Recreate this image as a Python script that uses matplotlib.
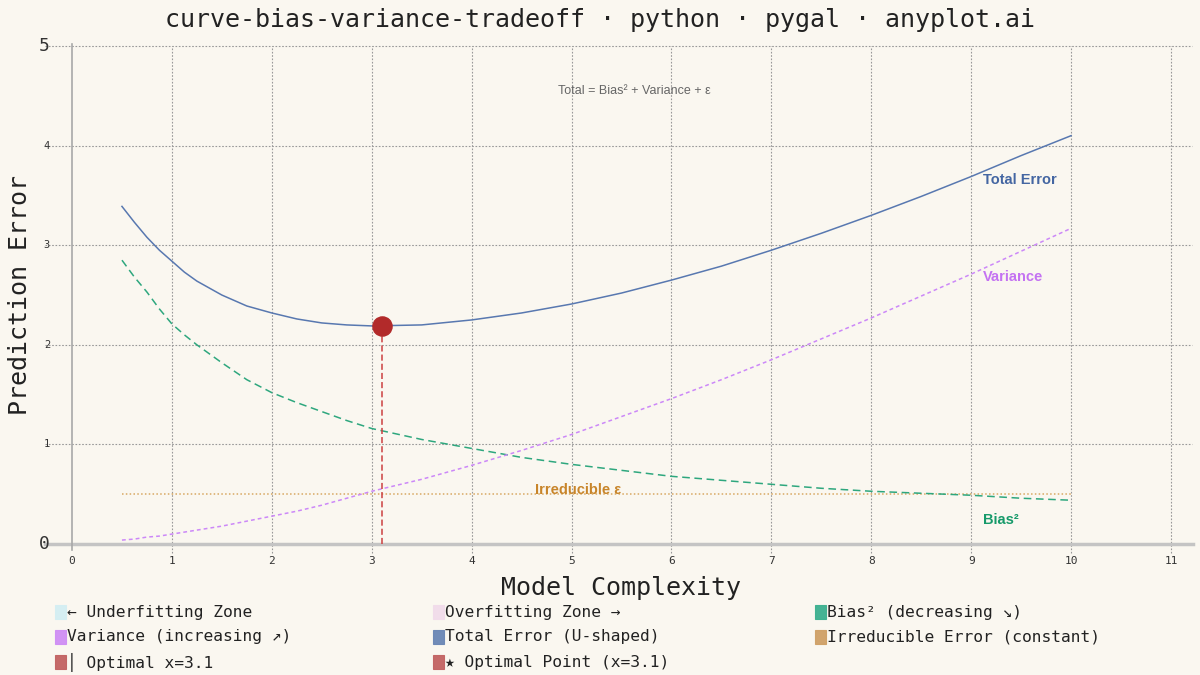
import numpy as np
import matplotlib
matplotlib.use("Agg")
import matplotlib.pyplot as plt
from matplotlib.patches import Rectangle

# ============================================
# Data
# ============================================
complexity = [0.5, 0.625, 0.75, 0.875, 1, 1.125, 1.25, 1.5, 1.75, 2, 2.25, 2.5, 2.75, 3,
              3.5, 4, 4.5, 5, 5.5, 6, 6.5, 7, 7.5, 8, 8.5, 9, 9.5, 10]
bias_sq = [2.85, 2.68, 2.53, 2.36, 2.21, 2.10, 2.00, 1.82, 1.65, 1.52, 1.42, 1.33, 1.24, 1.16,
           1.05, 0.96, 0.87, 0.80, 0.74, 0.68, 0.64, 0.60, 0.56, 0.53, 0.51, 0.49, 0.46, 0.44]
variance = [0.04, 0.05, 0.07, 0.08, 0.10, 0.12, 0.14, 0.18, 0.23, 0.28, 0.33, 0.39, 0.46, 0.53,
            0.65, 0.79, 0.94, 1.10, 1.28, 1.46, 1.65, 1.85, 2.06, 2.27, 2.49, 2.71, 2.94, 3.17]
total_error = [3.39, 3.23, 3.08, 2.95, 2.84, 2.73, 2.64, 2.50, 2.39, 2.32, 2.26, 2.22, 2.20, 2.19,
               2.20, 2.25, 2.32, 2.41, 2.52, 2.65, 2.79, 2.95, 3.12, 3.30, 3.49, 3.69, 3.90, 4.10]
irreducible = 0.5
optimal_x = 3.1
optimal_y = 2.19

x_ticks = list(range(0, 12))
y_ticks = [0, 1, 2, 3, 4, 5]

legend_items = [
    ("← Underfitting Zone", "#d3eef3"),
    ("Overfitting Zone →", "#f1dcea"),
    ("Bias² (decreasing ↘)", "#3bb08f"),
    ("Variance (increasing ↗)", "#cf8ef5"),
    ("Total Error (U-shaped)", "#6a86b5"),
    ("Irreducible Error (constant)", "#cfa066"),
    ("│ Optimal x=3.1", "#c26262"),
    ("★ Optimal Point (x=3.1)", "#c26262"),
]

# ============================================
# Figure setup
# ============================================
bg = "#faf7f0"
mono = ["DejaVu Sans Mono", "DejaVu Sans"]
sans = ["Liberation Sans", "DejaVu Sans"]

fig = plt.figure(figsize=(12, 6.75), dpi=100, facecolor=bg)
ax = fig.add_axes([0.06, 0.194, 0.9333, 0.7378], facecolor=bg)
ax.set_xlim(0, 11.21)
ax.set_ylim(0, 5)
for s in ax.spines.values():
    s.set_visible(False)
ax.set_xticks([])
ax.set_yticks([])

# grid (extends a little past the data area, like the original)
for yv in y_ticks[1:]:
    ax.plot([-0.27, 11.21], [yv, yv], ls=(0, (1.5, 1.5)), color="#999999",
            lw=0.8, clip_on=False, zorder=1)
for xv in x_ticks[1:]:
    ax.plot([xv, xv], [-0.09, 5], ls=(0, (1.5, 1.5)), color="#999999",
            lw=0.8, clip_on=False, zorder=1)
ax.plot([-0.27, 11.22], [0, 0], color="#c4c4c4", lw=2.5, clip_on=False, zorder=1)
ax.plot([0, 0], [-0.06, 5.02], color="#a8a8a8", lw=1.2, clip_on=False, zorder=2)

# tick labels
for yv in y_ticks:
    big = yv in (0, 5)
    ax.text(-0.22, yv, str(yv), ha="right", va="center", family=mono,
            fontsize=13 if big else 7.5, color="#333333")
for xv in x_ticks:
    ax.text(xv, -0.17, str(xv), ha="center", va="center", family=mono,
            fontsize=8, color="#333333")

# ============================================
# Curves
# ============================================
ax.plot(complexity, total_error, color="#5878b0", lw=1.1, zorder=4)
ax.plot(complexity, bias_sq, color="#2ea77e", lw=1.1, ls=(0, (5, 3)), zorder=4)
ax.plot(complexity, variance, color="#cc88f8", lw=1.1, ls=(0, (2.5, 2)), zorder=4)
ax.plot([complexity[0], complexity[-1]], [irreducible, irreducible],
        color="#d8a862", lw=1.1, ls=(0, (1, 1.5)), zorder=3)

# optimal point
ax.plot([optimal_x, optimal_x], [0, optimal_y], color="#cc4040", lw=1.1,
        ls=(0, (4, 2)), zorder=5)
ax.scatter([optimal_x], [optimal_y], s=190, color="#b22a2a", zorder=6,
           edgecolors="#b22a2a")

# labels on the chart
ax.text(9.12, 3.65, "Total Error", color="#4466a2", fontsize=10.5,
        fontweight="bold", family=sans, va="center")
ax.text(9.12, 2.68, "Variance", color="#c472f2", fontsize=10.5,
        fontweight="bold", family=sans, va="center")
ax.text(9.12, 0.24, "Bias²", color="#169a6a", fontsize=10.5,
        fontweight="bold", family=sans, va="center")
ax.text(4.63, 0.54, "Irreducible ε", color="#c8852a", fontsize=10.5,
        fontweight="bold", family=sans, va="center")
ax.text(5.63, 4.55, "Total = Bias² + Variance + ε", color="#666666",
        fontsize=9, family=sans, ha="center", va="center")

# ============================================
# Titles
# ============================================
fig.text(0.5, 1 - 20 / 675, "curve-bias-variance-tradeoff · python · pygal · anyplot.ai",
         ha="center", va="center", family=mono, fontsize=18, color="#222222")
fig.text(0.5175, 1 - 588 / 675, "Model Complexity", ha="center", va="center",
         family=mono, fontsize=18, color="#222222")
fig.text(20 / 1200, 1 - 295 / 675, "Prediction Error", ha="center", va="center",
         rotation=90, family=mono, fontsize=18, color="#222222")

# ============================================
# Legend (3 columns, row-wise)
# ============================================
col_x = [55, 433, 815]
row_y = [612, 637, 662]
for i, (label, color) in enumerate(legend_items):
    cx = col_x[i % 3]
    cy = row_y[i // 3]
    fig.patches.append(Rectangle((cx / 1200, 1 - (cy + 7) / 675), 11 / 1200, 14 / 675,
                                 transform=fig.transFigure, facecolor=color,
                                 edgecolor=color, lw=0.8, alpha=0.95))
    fig.text((cx + 12) / 1200, 1 - cy / 675, label, ha="left", va="center",
             family=mono, fontsize=11.7, color="#222222")

fig.savefig("out.png", dpi=100, facecolor=bg)
